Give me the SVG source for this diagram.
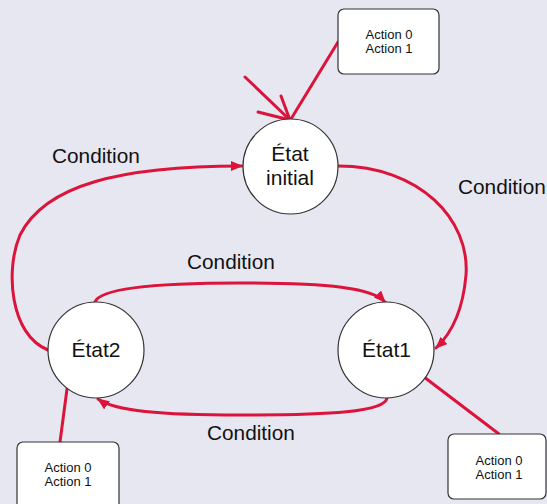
<svg xmlns="http://www.w3.org/2000/svg" width="547" height="504" viewBox="0 0 547 504">
  <defs>
    <style>
      .bg { fill: #e7e7f1; }
      .state { fill: #ffffff; stroke: #333333; stroke-width: 1.2; }
      .box { fill: #ffffff; stroke: #333333; stroke-width: 1.2; }
      .edge { fill: none; stroke: #dc143c; stroke-width: 3; stroke-linecap: round; }
      .slabel { font-family: "Liberation Sans", Arial, sans-serif; font-size: 21px; fill: #111111; text-anchor: middle; }
      .alabel { font-family: "Liberation Sans", Arial, sans-serif; font-size: 13px; fill: #111111; text-anchor: middle; }
      .elabel { font-family: "Liberation Sans", Arial, sans-serif; font-size: 20.8px; fill: #111111; }
    </style>
    <marker id="arrow" viewBox="0 0 12 10" refX="11" refY="5" markerWidth="12" markerHeight="10" markerUnits="userSpaceOnUse" orient="auto">
      <path d="M0,0 L12,5 L0,10 z" fill="#dc143c"/>
    </marker>
  </defs>

  <rect class="bg" x="0" y="0" width="547" height="504"/>

  <g id="connectors">
    <!-- initial transition -->
    <path class="edge" d="M245,77 L290,120"/>
    <path class="edge" d="M258,112 L290,120 L281,96"/>
    <!-- action links -->
    <path class="edge" d="M338,42 L291,119"/>
    <path class="edge" d="M67,389 L60,442"/>
    <path class="edge" d="M424,377 L499,434"/>
    <!-- État2 -> État initial -->
    <path class="edge" marker-end="url(#arrow)" d="M48,350 C10,335 5,270 20,235 C45,185 120,166 242,166"/>
    <!-- État initial -> État1 -->
    <path class="edge" marker-end="url(#arrow)" d="M338,166 C420,166 470,220 466,275 C463,310 452,333 436,348"/>
    <!-- État2 -> État1 -->
    <path class="edge" marker-end="url(#arrow)" d="M95,302 C100,288 160,283 240,283 C330,283 372,288 385,302"/>
    <!-- État1 -> État2 -->
    <path class="edge" marker-end="url(#arrow)" d="M387,398 C385,412 330,415 240,415 C160,415 115,411 98,399"/>
    <text class="elabel" x="52" y="163">Condition</text>
    <text class="elabel" x="458" y="194">Condition</text>
    <text class="elabel" x="187" y="269">Condition</text>
    <text class="elabel" x="207" y="440">Condition</text>
  </g>

  <g id="etat-initial">
    <circle class="state" cx="290.5" cy="166.5" r="47.5"/>
    <text class="slabel" x="290" y="161">État</text>
    <text class="slabel" x="290" y="185">initial</text>
  </g>

  <g id="etat1">
    <circle class="state" cx="386" cy="350" r="48"/>
    <text class="slabel" x="386.5" y="357">État1</text>
  </g>

  <g id="etat2">
    <circle class="state" cx="96" cy="350" r="48"/>
    <text class="slabel" x="96" y="357">État2</text>
  </g>

  <g id="actions-initial">
    <rect class="box" x="338" y="9" width="101" height="65" rx="6"/>
    <text class="alabel" x="389" y="38.5">Action 0</text>
    <text class="alabel" x="389" y="52.5">Action 1</text>
  </g>

  <g id="actions-etat2">
    <rect class="box" x="17" y="442" width="102" height="75" rx="6"/>
    <text class="alabel" x="68" y="472">Action 0</text>
    <text class="alabel" x="68" y="486">Action 1</text>
  </g>

  <g id="actions-etat1">
    <rect class="box" x="448" y="434" width="98" height="65" rx="6"/>
    <text class="alabel" x="499" y="465">Action 0</text>
    <text class="alabel" x="499" y="479">Action 1</text>
  </g>
</svg>
